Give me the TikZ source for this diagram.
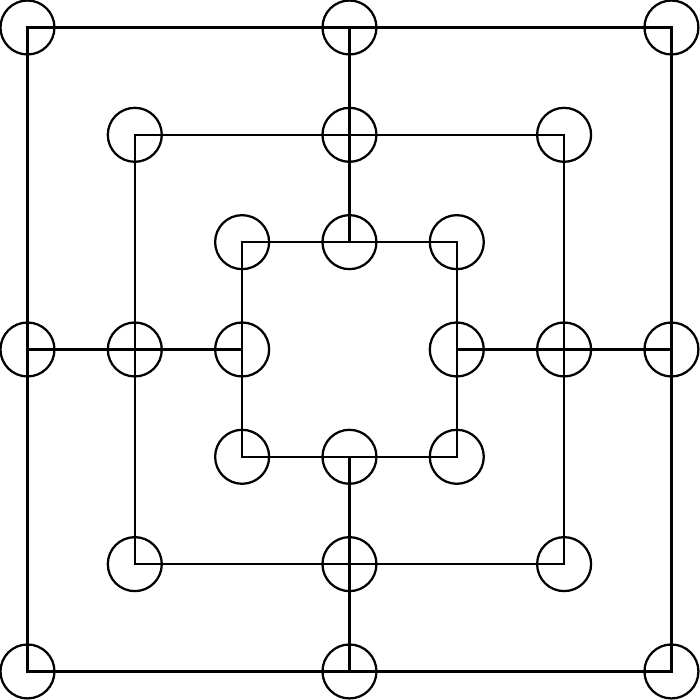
\documentclass[tikz,border=0pt]{standalone}
\begin{document}
\begin{tikzpicture}[x=1cm,y=-1cm,
  board/.style={draw=black,line width=0.6pt},
  spot/.style={circle,draw=black,line width=0.6pt,minimum size=0.503cm,inner sep=0pt}]
\useasboundingbox (-0.256,-0.256) rectangle (6.266,6.266);
% squares
\draw[board] (0,0) rectangle (6,6);
\draw[board] (1,1) rectangle (5,5);
\draw[board] (2,2) rectangle (4,4);
% connectors
\draw[board] (3,0) -- (3,2);
\draw[board] (3,4) -- (3,6);
\draw[board] (0,3) -- (2,3);
\draw[board] (4,3) -- (6,3);
% spots
\foreach \x/\y/\n in {0/0/a1,3/0/a2,6/0/a3,6/3/a4,6/6/a5,3/6/a6,0/6/a7,0/3/a8,
  1/1/b1,3/1/b2,5/1/b3,5/3/b4,5/5/b5,3/5/b6,1/5/b7,1/3/b8,
  2/2/c1,3/2/c2,4/2/c3,4/3/c4,4/4/c5,3/4/c6,2/4/c7,2/3/c8}
  \node[spot] (\n) at (\x,\y) {};
\end{tikzpicture}
\end{document}
